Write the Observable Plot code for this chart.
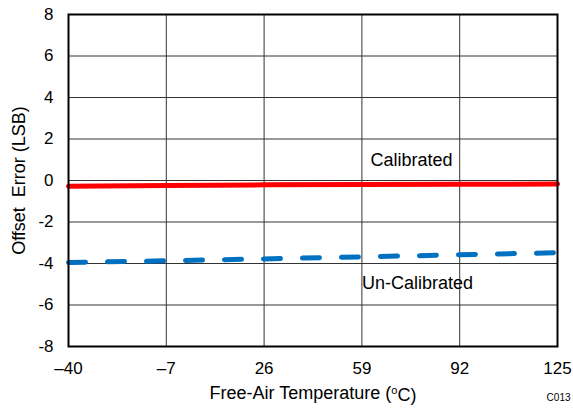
<!DOCTYPE html>
<html>
<head>
<meta charset="utf-8">
<script src="https://cdn.jsdelivr.net/npm/d3@7"></script>
<script src="https://cdn.jsdelivr.net/npm/@observablehq/plot@0.6"></script>
<style>
  html, body { margin: 0; padding: 0; background: #fff; }
  #chart svg { font-family: "Liberation Sans", Arial, sans-serif; }
</style>
</head>
<body>
<div id="chart"></div>
<script>
const temps = [-40, -7, 26, 59, 92, 125];
const calibrated = [-0.28, -0.24, -0.21, -0.19, -0.18, -0.17];
const uncalibrated = [-3.95, -3.87, -3.78, -3.68, -3.58, -3.48];
const xTicks = [-40, -7, 26, 59, 92, 125];
const yTicks = [-8, -6, -4, -2, 0, 2, 4, 6, 8];
const labels = [
  {x: 75.7, y: 0.96, text: "Calibrated"},
  {x: 77.8, y: -4.96, text: "Un-Calibrated"}
];

const calData = temps.map((t, i) => ({t, v: calibrated[i]}));
const uncData = temps.map((t, i) => ({t, v: uncalibrated[i]}));

const chart = Plot.plot({
  width: 573,
  height: 408,
  marginLeft: 68,
  marginRight: 16,
  marginTop: 14,
  marginBottom: 62,
  style: {fontFamily: "Liberation Sans, Arial, sans-serif", fontSize: "17px", color: "#000", background: "#fff"},
  x: {domain: [-40, 125]},
  y: {domain: [-8, 8]},
  marks: [
    Plot.gridX(xTicks, {stroke: "#333", strokeOpacity: 1, strokeWidth: 1}),
    Plot.gridY(yTicks, {stroke: "#333", strokeOpacity: 1, strokeWidth: 1}),
    Plot.axisY(yTicks, {tickSize: 0, tickPadding: 15, fontSize: 17, tickFormat: d => String(d),
      label: "Offset  Error (LSB)", labelAnchor: "center", labelOffset: 56, labelArrow: "none"}),
    Plot.axisX(xTicks, {tickSize: 0, tickPadding: 15, fontSize: 17, tickFormat: d => d < 0 ? "\u2013" + Math.abs(d) : String(d),
      label: "Free-Air Temperature (oC)", labelAnchor: "center", labelOffset: 52, labelArrow: "none"}),
    Plot.line(calData, {x: "t", y: "v", stroke: "#ff0000", strokeWidth: 5}),
    Plot.line(uncData, {x: "t", y: "v", stroke: "#0070c0", strokeWidth: 5, strokeDasharray: "17,22", strokeLinecap: "round"}),
    Plot.text(labels, {x: "x", y: "y", text: "text", fontSize: 18, fill: "#000"}),
    Plot.frame({stroke: "#000", strokeWidth: 2}),
    Plot.text(["C013"], {frameAnchor: "bottom-right", text: d => d, textAnchor: "end", dx: 13, dy: 54, fontSize: 10, fill: "#000"})
  ]
});

document.getElementById("chart").appendChild(chart);

// axis label sizes and superscript "o" in the x-axis label
d3.select(chart).selectAll("text").each(function() {
  const el = d3.select(this);
  const t = el.text();
  if (t === "Free-Air Temperature (oC)") {
    el.attr("font-size", "18px");
    el.text(null);
    el.append("tspan").text("Free-Air Temperature (");
    el.append("tspan").attr("dy", "-0.4em").attr("font-size", "11px").text("o");
    el.append("tspan").attr("dy", "0.4em").text("C)");
  } else if (t === "Offset  Error (LSB)") {
    el.attr("font-size", "18px").style("white-space", "pre");
  }
});
</script>
</body>
</html>
